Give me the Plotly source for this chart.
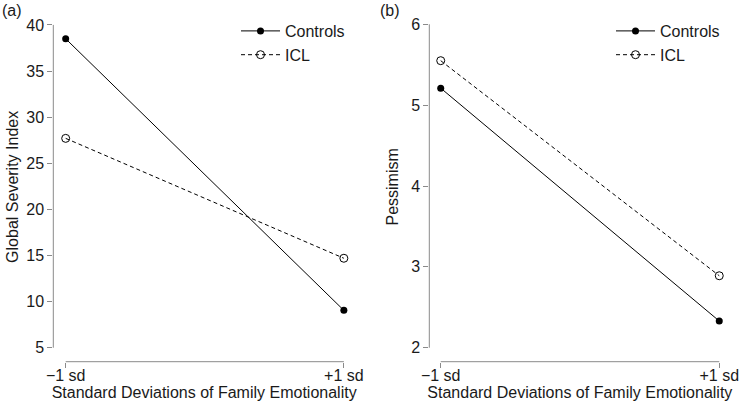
import plotly.graph_objects as go

x_vals = [-1, 1]
x_ticklabels = ["\u22121 sd", "+1 sd"]

gsi_controls = [38.5, 9.05]
gsi_icl = [27.7, 14.7]
gsi_ticks = [5, 10, 15, 20, 25, 30, 35, 40]

pess_controls = [5.21, 2.33]
pess_icl = [5.55, 2.89]
pess_ticks = [2, 3, 4, 5, 6]

W, H = 739, 402
FONT = "Liberation Sans, Arial, Helvetica, sans-serif"
AXCOL = "#8a8a8a"
TXT = "#1a1a1a"

def px2x(p):
    return p / W

def px2y(p):
    return 1 - p / H

fig = go.Figure()

# Panel a
fig.add_trace(go.Scatter(x=x_vals, y=gsi_controls, mode="lines+markers", name="Controls",
                         line=dict(color="black", width=1),
                         marker=dict(symbol="circle", size=7, color="black"),
                         xaxis="x", yaxis="y", legend="legend"))
fig.add_trace(go.Scatter(x=x_vals, y=gsi_icl, mode="lines+markers", name="ICL",
                         line=dict(color="black", width=1, dash="4px,3px"),
                         marker=dict(symbol="circle-open", size=8, color="black", line=dict(width=1)),
                         xaxis="x", yaxis="y", legend="legend"))
# Panel b
fig.add_trace(go.Scatter(x=x_vals, y=pess_controls, mode="lines+markers", name="Controls",
                         line=dict(color="black", width=1),
                         marker=dict(symbol="circle", size=7, color="black"),
                         xaxis="x2", yaxis="y2", legend="legend2"))
fig.add_trace(go.Scatter(x=x_vals, y=pess_icl, mode="lines+markers", name="ICL",
                         line=dict(color="black", width=1, dash="4px,3px"),
                         marker=dict(symbol="circle-open", size=8, color="black", line=dict(width=1)),
                         xaxis="x2", yaxis="y2", legend="legend2"))

ydom = [px2y(361.7), px2y(12)]

common_x = dict(tickmode="array", tickvals=x_vals, ticktext=x_ticklabels,
                ticks="outside", ticklen=5, tickcolor=AXCOL, tickwidth=1,
                ticklabelstandoff=-6, ticklabeloverflow="allow",
                showline=False, showgrid=False, zeroline=False, automargin=False,
                tickfont=dict(size=16, color=TXT, family=FONT),
                title=dict(text="Standard Deviations of Family Emotionality",
                           font=dict(size=16, color=TXT, family=FONT), standoff=0),
                fixedrange=True)
common_y = dict(ticks="outside", ticklen=5, tickcolor=AXCOL, tickwidth=1,
                showline=False, showgrid=False, zeroline=False, automargin=False,
                tickfont=dict(size=16, color=TXT, family=FONT),
                fixedrange=True)

fig.update_layout(
    width=W, height=H,
    margin=dict(l=0, r=0, t=0, b=0, autoexpand=False),
    paper_bgcolor="white", plot_bgcolor="white",
    font=dict(family=FONT, color=TXT),
    xaxis=dict(domain=[px2x(53.3), px2x(355)], range=[-1.089, 1.08], anchor="y", **common_x),
    yaxis=dict(domain=ydom, range=[3.485, 41.4], anchor="x", tickmode="array", tickvals=gsi_ticks,
               title=dict(text="Global Severity Index", font=dict(size=16, color=TXT, family=FONT), standoff=3),
               **common_y),
    xaxis2=dict(domain=[px2x(429.3), px2x(730.4)], range=[-1.082, 1.08], anchor="y2", **common_x),
    yaxis2=dict(domain=ydom, range=[1.827, 6.152], anchor="x2", tickmode="array", tickvals=pess_ticks,
                title=dict(text="Pessimism", font=dict(size=16, color=TXT, family=FONT), standoff=8),
                **common_y),
    legend=dict(x=px2x(236), y=px2y(14), xanchor="left", yanchor="top",
                bgcolor="rgba(0,0,0,0)", font=dict(size=16, family=FONT, color=TXT),
                tracegroupgap=0, itemwidth=39),
    legend2=dict(x=px2x(611), y=px2y(14), xanchor="left", yanchor="top",
                 bgcolor="rgba(0,0,0,0)", font=dict(size=16, family=FONT, color=TXT),
                 tracegroupgap=0, itemwidth=39),
    showlegend=True,
)

# R-style detached axis lines spanning the tick range
fig.add_shape(type="line", xref="x", yref="y domain", x0=x_vals[0], x1=x_vals[-1], y0=0, y1=0,
              line=dict(color=AXCOL, width=1))
fig.add_shape(type="line", xref="x domain", yref="y", x0=0, x1=0, y0=gsi_ticks[0], y1=gsi_ticks[-1],
              line=dict(color=AXCOL, width=1))
fig.add_shape(type="line", xref="x2", yref="y2 domain", x0=x_vals[0], x1=x_vals[-1], y0=0, y1=0,
              line=dict(color=AXCOL, width=1))
fig.add_shape(type="line", xref="x2 domain", yref="y2", x0=0, x1=0, y0=pess_ticks[0], y1=pess_ticks[-1],
              line=dict(color=AXCOL, width=1))

fig.add_annotation(text="(a)", x=0, y=1, xref="paper", yref="paper", xanchor="left", yanchor="top",
                   showarrow=False, font=dict(size=16, family=FONT, color=TXT))
fig.add_annotation(text="(b)", x=px2x(378), y=1, xref="paper", yref="paper", xanchor="left", yanchor="top",
                   showarrow=False, font=dict(size=16, family=FONT, color=TXT))

fig.write_html("out.html", config={"displayModeBar": False},
               post_script="document.body.style.margin='0';document.body.style.overflow='hidden';")
